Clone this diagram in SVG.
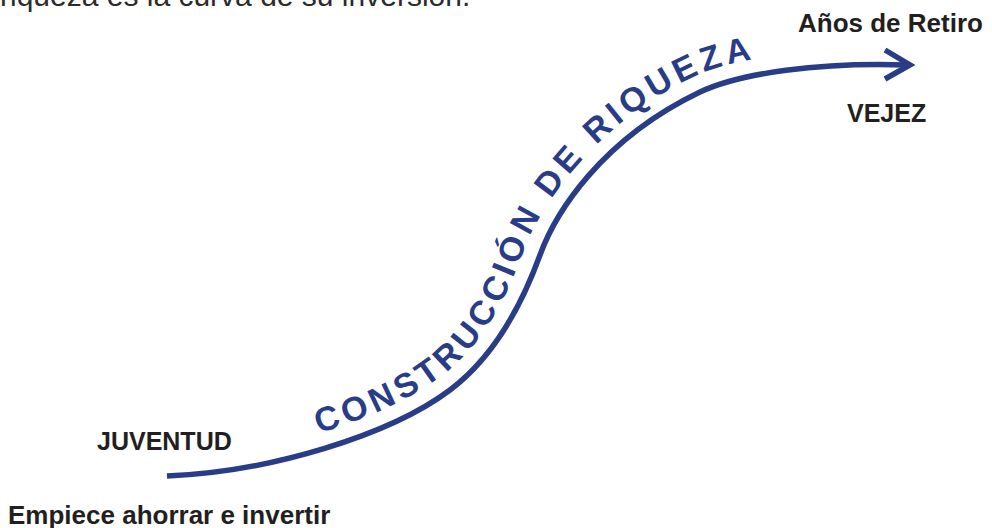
<svg xmlns="http://www.w3.org/2000/svg" xmlns:xlink="http://www.w3.org/1999/xlink" width="992" height="528" viewBox="0 0 992 528">
  <defs>
    <style>
      .lbl { font-family: "Liberation Sans", Arial, sans-serif; font-weight: bold; fill: #231f20; }
      .top { font-family: "Liberation Sans", Arial, sans-serif; fill: #2b2b2b; font-size: 30px; }
      .curve { fill: none; stroke: #283c87; stroke-width: 5.5; stroke-linecap: butt; stroke-linejoin: miter; }
      .arc-text { font-family: "Liberation Sans", Arial, sans-serif; font-weight: bold; font-size: 34px; letter-spacing: 4.6px; fill: #283c87; }
    </style>
    <path id="textline" d="M166,459 C269,455 379,422 440,377 C480,347 504,305 524,250 C539,209 593,125 693,77 C733,58 820,45 910,48"/>
  </defs>
  <rect width="992" height="528" fill="#ffffff"/>

  <text class="top" x="0" y="6">riqueza es la curva de su inversión.</text>

  <g id="connectors">
    <path class="curve" d="M167,476 C270,472 390,435 450,390 C490,360 520,310 540,255 C555,214 600,140 700,92 C740,73 820,62 908,65"/>
    <polyline class="curve" points="885,50 910,65 885,79"/>
  </g>

  <g id="curve-label">
    <text class="arc-text"><textPath xlink:href="#textline" href="#textline" startOffset="155">CONSTRUCCIÓN DE RIQUEZA</textPath></text>
  </g>

  <g id="node-juventud">
    <text class="lbl" x="97" y="450" font-size="25">JUVENTUD</text>
    <text class="lbl" x="8" y="524" font-size="26">Empiece ahorrar e invertir</text>
  </g>

  <g id="node-vejez">
    <text class="lbl" x="798" y="32" font-size="26">Años de Retiro</text>
    <text class="lbl" x="847" y="122" font-size="25">VEJEZ</text>
  </g>
</svg>
